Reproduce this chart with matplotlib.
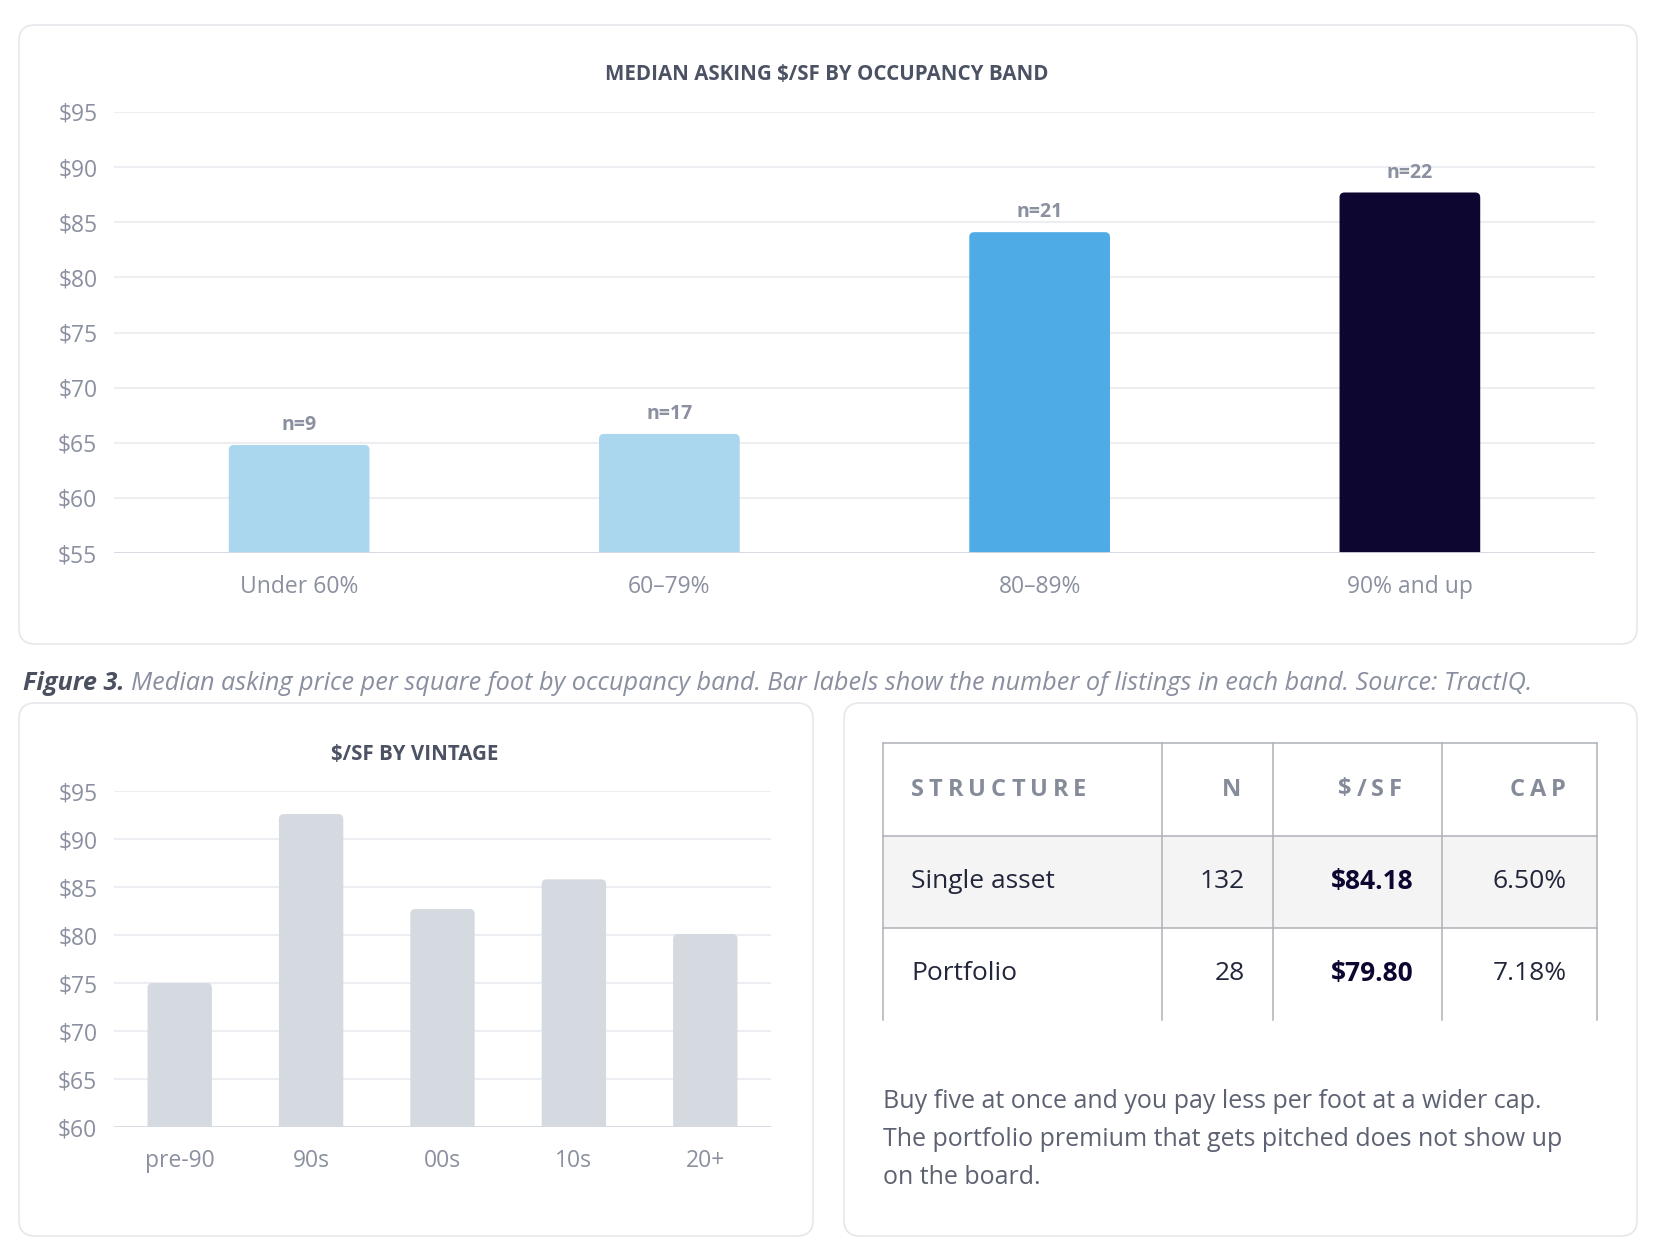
import matplotlib
matplotlib.use('Agg')
import matplotlib.pyplot as plt
from matplotlib.patches import FancyBboxPatch, Rectangle

plt.rcParams['font.family'] = ['Open Sans', 'DejaVu Sans']

# occupancy chart
bands = ['Under 60%', '60\u201379%', '80\u201389%', '90% and up']
band_price = [64.8, 65.8, 84.1, 87.7]
band_n = [9, 17, 21, 22]
band_colors = ['#abd7ee', '#abd7ee', '#4eabe6', '#0c0630']

# vintage chart
vintages = ['pre-90', '90s', '00s', '10s', '20+']
vintage_price = [75.0, 92.6, 82.7, 85.8, 80.1]

# structure table
tbl_cols = ['STRUCTURE', 'N', '$/SF', 'CAP']
tbl_structure = ['Single asset', 'Portfolio']
tbl_n = ['132', '28']
tbl_psf = ['$84.18', '$79.80']
tbl_cap = ['6.50%', '7.18%']

note_lines = ['Buy five at once and you pay less per foot at a wider cap.',
              'The portfolio premium that gets pitched does not show up',
              'on the board.']

W, H = 1656, 1254
GRID = '#eceef2'
TICK = '#8b90a0'
TITLE = '#4b5263'

fig = plt.figure(figsize=(W / 100, H / 100), dpi=100)
bg = fig.add_axes([0, 0, 1, 1])
bg.set_xlim(0, W)
bg.set_ylim(H, 0)
bg.axis('off')
renderer = fig.canvas.get_renderer()


def card(x0, y0, x1, y1):
    bg.add_patch(FancyBboxPatch((x0, y0), x1 - x0, y1 - y0,
                                boxstyle='round,pad=0,rounding_size=16',
                                fc='white', ec='#e5e7eb', lw=1.2))


def text_width(s, **kw):
    t = bg.text(0, 0, s, **kw)
    w = t.get_window_extent(renderer).width
    t.remove()
    return w


def spaced(x, y, s, ha='left', track=4.0, **kw):
    widths = [text_width(c, **kw) for c in s]
    total = sum(widths) + track * (len(s) - 1)
    cx = x - total if ha == 'right' else x
    for c, w in zip(s, widths):
        bg.text(cx, y, c, ha='left', va='center', **kw)
        cx += w + track


def px_axes(x0, y0, x1, y1):
    return fig.add_axes([x0 / W, 1 - y1 / H, (x1 - x0) / W, (y1 - y0) / H])


def style_axes(ax, lo, hi):
    ax.set_facecolor('none')
    ax.set_ylim(lo, hi)
    ax.set_yticks(range(lo, hi + 1, 5))
    ax.set_yticklabels(['$%d' % v for v in range(lo, hi + 1, 5)])
    ax.grid(axis='y', color=GRID, lw=1.5)
    ax.set_axisbelow(True)
    for s in ax.spines.values():
        s.set_visible(False)
    ax.axhline(lo, color='#d6d9df', lw=2, zorder=3)
    ax.tick_params(axis='both', length=0, colors=TICK, labelsize=16.5)
    ax.tick_params(axis='y', pad=12)
    ax.tick_params(axis='x', pad=16)


def round_tops(ax, bars, r_px=5):
    # swap the square bars for ones with slightly rounded top corners
    bb = ax.get_window_extent(renderer)
    xl, yl = ax.get_xlim(), ax.get_ylim()
    xu = (xl[1] - xl[0]) / bb.width
    yu = (yl[1] - yl[0]) / bb.height
    for b in bars:
        ext = 3 * r_px * yu
        p = FancyBboxPatch((b.get_x(), b.get_y() - ext), b.get_width(),
                           b.get_height() + ext,
                           boxstyle='round,pad=0,rounding_size=%f' % (r_px * xu),
                           mutation_aspect=yu / xu, fc=b.get_facecolor(),
                           ec='none', zorder=2)
        ax.add_patch(p)
        b.remove()


# cards
card(19, 25, 1637, 644)
card(19, 703, 813, 1236)
card(844, 703, 1637, 1236)

# top chart
ax1 = px_axes(114, 112, 1595, 553)
style_axes(ax1, 55, 95)
x1 = range(len(bands))
bars1 = ax1.bar(x1, [p - 55 for p in band_price], bottom=55, width=0.38,
                color=band_colors, zorder=2)
ax1.set_xlim(-0.5, len(bands) - 0.5)
ax1.set_xticks(list(x1))
ax1.set_xticklabels(bands)
round_tops(ax1, bars1)
for i, (p, n) in enumerate(zip(band_price, band_n)):
    ax1.annotate('n=%d' % n, (i, p), xytext=(0, 7), textcoords='offset points',
                 ha='center', va='bottom', fontsize=14, fontweight='bold', color=TICK)
bg.text(827, 75, 'MEDIAN ASKING $/SF BY OCCUPANCY BAND', ha='center', va='center',
        fontsize=14.8, fontweight='bold', color=TITLE)

# caption
cap_bold = 'Figure 3.'
cap_size = 18.2
bg.text(23, 683, cap_bold, ha='left', va='center', fontsize=cap_size,
        fontweight='bold', fontstyle='italic', color='#4b5060')
wb = text_width(cap_bold + ' ', fontsize=cap_size, fontweight='bold', fontstyle='italic')
bg.text(23 + wb, 683, 'Median asking price per square foot by occupancy band. '
        'Bar labels show the number of listings in each band. Source: TractIQ.',
        ha='left', va='center', fontsize=cap_size, fontstyle='italic', color='#8a8fa0')

# vintage chart
ax2 = px_axes(114, 791, 771, 1127)
style_axes(ax2, 60, 95)
x2 = range(len(vintages))
bars2 = ax2.bar(x2, [p - 60 for p in vintage_price], bottom=60, width=0.49,
                color='#d5d9e0', zorder=2)
ax2.set_xlim(-0.5, len(vintages) - 0.5)
ax2.set_xticks(list(x2))
ax2.set_xticklabels(vintages)
round_tops(ax2, bars2)
bg.text(415, 754, '$/SF BY VINTAGE', ha='center', va='center',
        fontsize=14.8, fontweight='bold', color=TITLE)

# table
tx0, tx1 = 883, 1597
col_x = [tx0, 1162, 1273, 1442, tx1]
row_y = [743, 836, 928, 1020]
bg.add_patch(Rectangle((tx0, row_y[1]), tx1 - tx0, row_y[2] - row_y[1],
                       fc='#f4f4f5', ec='none'))
line_kw = dict(color='#aeb1b7', lw=1.1)
for y in row_y[:3]:
    bg.plot([tx0, tx1], [y, y], **line_kw)
for x in col_x:
    bg.plot([x, x], [row_y[0], row_y[3]], **line_kw)

head_y = (row_y[0] + row_y[1]) / 2
hkw = dict(fontsize=17, fontweight='bold', color='#858b99')
spaced(col_x[0] + 28, head_y, tbl_cols[0], ha='left', track=5.0, **hkw)
head_pad = [32, 40, 31]
for j in range(1, 4):
    spaced(col_x[j + 1] - head_pad[j - 1], head_y, tbl_cols[j], ha='right',
           track=5.0, **hkw)

row_size = 19
for i in range(len(tbl_structure)):
    y = (row_y[i + 1] + row_y[i + 2]) / 2
    bg.text(col_x[0] + 28, y, tbl_structure[i], ha='left', va='center',
            fontsize=row_size, color='#22263a')
    bg.text(col_x[2] - 28, y, tbl_n[i], ha='right', va='center',
            fontsize=row_size, color='#22263a')
    bg.text(col_x[3] - 28, y, tbl_psf[i], ha='right', va='center',
            fontsize=row_size, fontweight='bold', color='#0c0630')
    bg.text(col_x[4] - 30, y, tbl_cap[i], ha='right', va='center',
            fontsize=row_size, color='#22263a')

for k, line in enumerate(note_lines):
    bg.text(883, 1102 + 37.5 * k, line, ha='left', va='center',
            fontsize=18, color='#5d6272')

fig.savefig('out.png', dpi=100)
